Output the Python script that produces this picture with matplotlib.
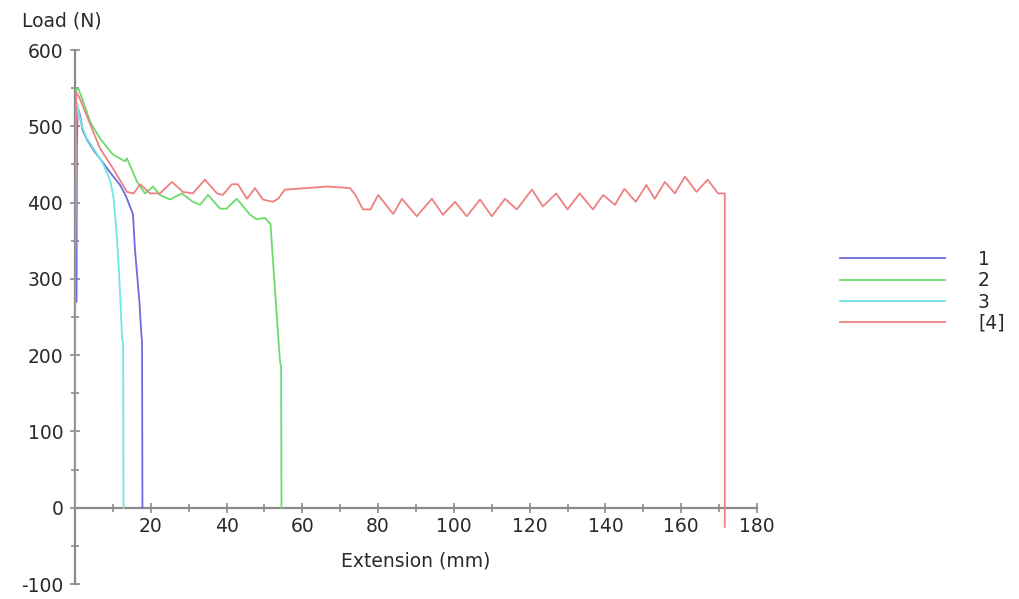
import matplotlib
matplotlib.use("Agg")
import matplotlib.pyplot as plt
from matplotlib.ticker import FixedLocator

plt.rcParams["axes.unicode_minus"] = False

# ---- data ----
s1_x = [0.4, 0.5, 0.7, 1.3, 2.0, 3.2, 5.0, 7.0, 9.2, 11.9, 13.5, 14.5, 15.3, 15.8, 16.4, 17.0, 17.5, 17.7, 17.8]
s1_y = [270, 470, 525, 515, 495, 482, 468, 455, 440, 423, 408, 395, 385, 340, 305, 270, 228, 218, 0]

s2_x = [0, 0.5, 1, 2, 4, 6.6, 10, 13.2, 13.7, 16.4, 18.5, 20.6, 22.4, 25.1, 28.2, 31.1, 33, 35.1,
        38.3, 40, 42.7, 46.2, 48, 50.1, 51, 51.6, 52.2, 53.0, 54.1, 54.4, 54.5]
s2_y = [540, 550, 548, 535, 506, 484, 463, 454, 458, 427, 412, 421, 410, 404, 412, 401, 397, 410,
        392, 392, 405, 384, 378, 380, 375, 372, 327, 270, 192, 185, 0]

s3_x = [0, 0, 0.3, 0.6, 1.5, 3, 5, 7, 8.4, 9.5, 10.2, 11, 11.6, 12.0, 12.4, 12.7, 12.8]
s3_y = [0, 300, 500, 530, 505, 485, 470, 455, 440, 425, 405, 360, 310, 270, 225, 215, 0]

s4_x = [0, 0, 0.3, 1.3, 6.6, 10, 13.7, 15.5, 17.2, 19.8, 22.4, 25.6, 28.5, 31.1, 34.3, 37.5, 39,
        41.4, 43, 45.4, 47.5, 49.6, 52.2, 53.6, 55.4, 61.2, 66.5, 72.6, 74.0, 76.0, 78.0, 80, 84,
        86.3, 90.2, 94.2, 97.1, 100.3, 103.4, 106.9, 110, 113.5, 116.6, 120.6, 123.5, 127, 130,
        133.2, 136.7, 139.4, 142.5, 145, 148, 150.8, 153, 155.7, 158.3, 161, 164, 167, 169.7,
        171.5, 171.5]
s4_y = [0, 300, 545, 536, 471, 445, 414, 412, 424, 412, 412, 427, 414, 412, 430, 412, 410,
        424, 424, 405, 419, 404, 401, 405, 417, 419, 421, 419, 410, 391, 391, 410, 385,
        405, 382, 405, 384, 401, 382, 404, 382, 405, 391, 417, 395, 412, 391,
        412, 391, 410, 397, 418, 401, 423, 405, 427, 412, 434, 414, 430, 412,
        412, -25]

series_labels = ["1", "2", "3", "[4]"]
x_ticks = [20, 40, 60, 80, 100, 120, 140, 160, 180]
y_ticks = [-100, 0, 100, 200, 300, 400, 500, 600]

colors = ["#6b6be0", "#6bdc6b", "#72e6e6", "#ee8080"]
axis_col = "#8a8a8a"
text_col = "#2a2a2a"
FS = 13.5

W, H = 1019, 599
fig = plt.figure(figsize=(W / 100, H / 100), dpi=100)
ax = fig.add_axes([75 / W, 1 - 584 / H, (757 - 75) / W, (584 - 50) / H])

lines = []
for xs, ys, c, lab in zip([s1_x, s2_x, s3_x, s4_x], [s1_y, s2_y, s3_y, s4_y], colors, series_labels):
    ln, = ax.plot(xs, ys, color=c, lw=1.3, label=lab, solid_joinstyle="round", zorder=3)
    lines.append(ln)

ax.set_xlim(0, 180)
ax.set_ylim(-100, 600)

for side in ["top", "right"]:
    ax.spines[side].set_visible(False)
ax.spines["bottom"].set_position(("data", 0))
ax.spines["left"].set_position(("data", 0))
for side in ["bottom", "left"]:
    ax.spines[side].set_color(axis_col)
    ax.spines[side].set_linewidth(1.6)

ax.xaxis.set_major_locator(FixedLocator(x_ticks))
ax.xaxis.set_minor_locator(FixedLocator([10, 30, 50, 70, 90, 110, 130, 150, 170]))
ax.yaxis.set_major_locator(FixedLocator(y_ticks))
ax.yaxis.set_minor_locator(FixedLocator([-50, 50, 150, 250, 350, 450, 550]))

ax.tick_params(axis="both", which="both", direction="inout", color=axis_col, width=1.2,
               labelsize=FS, labelcolor=text_col)
ax.tick_params(axis="both", which="major", length=7)
ax.tick_params(axis="both", which="minor", length=6)
ax.tick_params(axis="x", pad=3)
ax.tick_params(axis="y", pad=5)

fig.text(22 / W, 1 - 21 / H, "Load (N)", fontsize=FS, color=text_col, ha="left", va="center")
fig.text(416 / W, 1 - 561 / H, "Extension (mm)", fontsize=FS, color=text_col, ha="center", va="center")

fig.legend(handles=lines, labels=series_labels, loc="upper left",
           bbox_to_anchor=(840 / W, 1 - 250 / H), bbox_transform=fig.transFigure,
           frameon=False, fontsize=FS, handlelength=105 / (FS * 100 / 72),
           handletextpad=33 / (FS * 100 / 72), labelspacing=0.12, borderpad=0, borderaxespad=0,
           labelcolor=text_col)

fig.savefig("out.png", dpi=100)
